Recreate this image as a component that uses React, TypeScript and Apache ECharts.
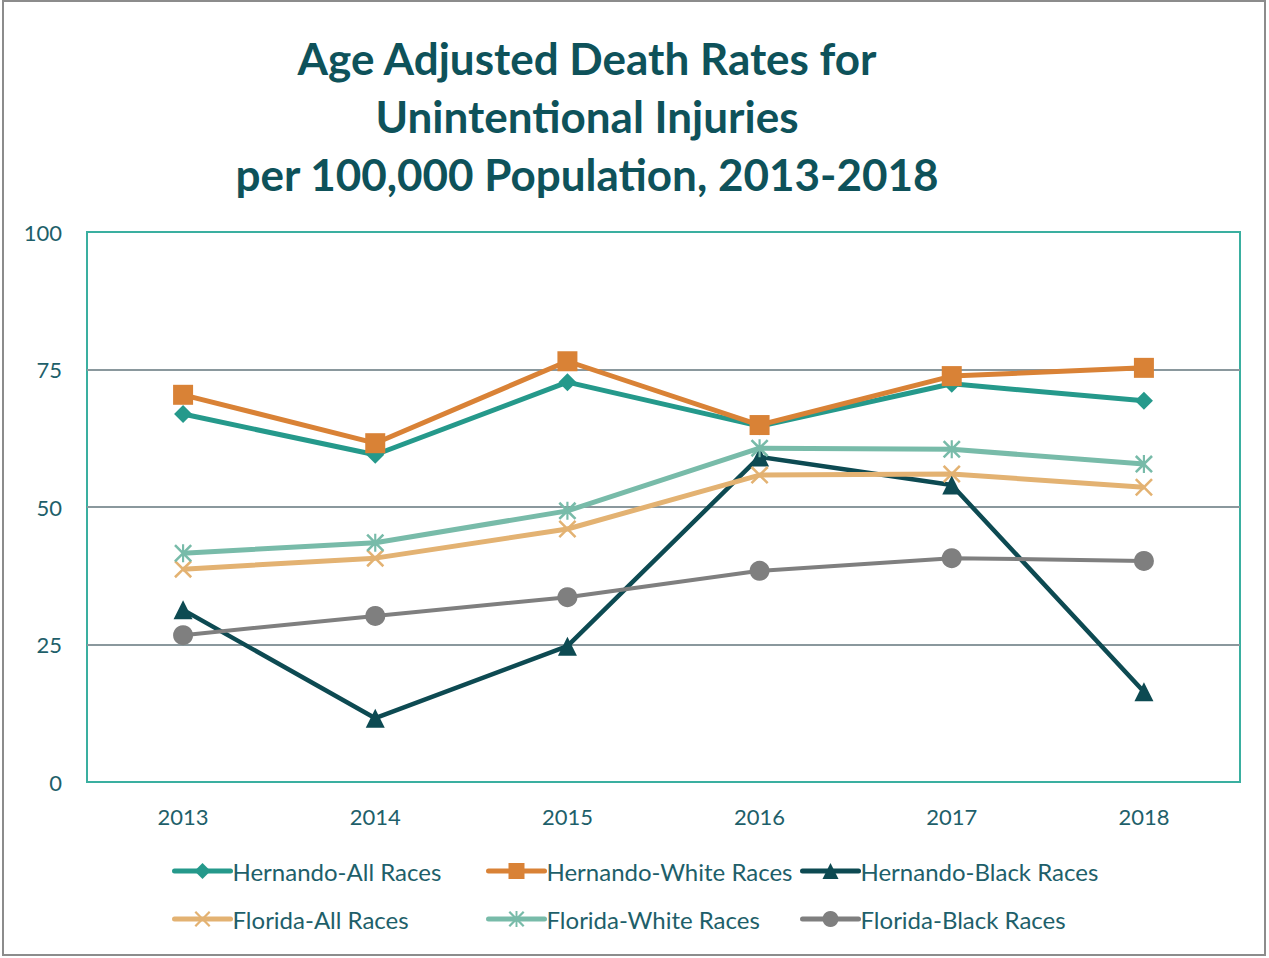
import React, { useEffect, useRef } from "react";
import * as echarts from "echarts";

const years = ["2013", "2014", "2015", "2016", "2017", "2018"];
const seriesNames = [
  "Hernando-All Races",
  "Hernando-White Races",
  "Hernando-Black Races",
  "Florida-All Races",
  "Florida-White Races",
  "Florida-Black Races",
];
const hernandoAll = [66.9, 59.5, 72.7, 64.7, 72.4, 69.3];
const hernandoWhite = [70.4, 61.6, 76.5, 64.9, 73.8, 75.3];
const hernandoBlack = [31.3, 11.6, 24.7, 59.1, 54.0, 16.4];
const floridaAll = [38.7, 40.7, 46.0, 55.8, 56.0, 53.6];
const floridaWhite = [41.6, 43.5, 49.3, 60.7, 60.5, 57.8];
const floridaBlack = [26.7, 30.2, 33.6, 38.4, 40.7, 40.2];
const yTicks = [0, 25, 50, 75, 100];

const titleLines = [
  "Age Adjusted Death Rates for",
  "Unintentional Injuries",
  "per 100,000 Population, 2013-2018",
];

const X_PATH =
  "path://M0,1 L1,0 L5,4 L9,0 L10,1 L6,5 L10,9 L9,10 L5,6 L1,10 L0,9 L4,5 Z";
const STAR_PATH =
  "path://M0,1 L1,0 L5,4 L9,0 L10,1 L6,5 L10,9 L9,10 L5,6 L1,10 L0,9 L4,5 Z M4.4,0 L5.6,0 L5.6,10 L4.4,10 Z";

const colors = ["#25998B", "#D98236", "#0D4A52", "#E3B272", "#78BBA9", "#7F7F7F"];
const symbols = ["diamond", "rect", "triangle", X_PATH, STAR_PATH, "circle"];
const symbolSizes = [18, 20, 19, 18, 18, 20];
const lineWidths = [5, 5, 4.5, 5, 5, 4];
const values = [hernandoAll, hernandoWhite, hernandoBlack, floridaAll, floridaWhite, floridaBlack];

const legendCols = [172, 486, 800];
const legendRows = [859, 907];

export default function App() {
  const ref = useRef<HTMLDivElement>(null);
  useEffect(() => {
    if (!ref.current) return;
    const chart = echarts.init(ref.current, undefined, { renderer: "svg" });
    const textColor = "#1E5F6A";
    const font = "Lato";
    chart.setOption({
      animation: false,
      backgroundColor: "#ffffff",
      textStyle: { fontFamily: font },
      title: {
        text: titleLines.join("\n"),
        left: 582,
        textAlign: "center",
        top: 24,
        textStyle: {
          fontFamily: font,
          fontWeight: "bold",
          fontSize: 44,
          lineHeight: 58,
          color: "#0E525A",
        },
      },
      legend: seriesNames.map((n, i) => ({
        data: [n],
        left: legendCols[i % 3],
        top: legendRows[Math.floor(i / 3)],
        itemWidth: 56,
        itemHeight: 20,
        padding: 0,
        lineStyle: { width: 5, cap: "round" },
        textStyle: { color: textColor, fontSize: 24, fontFamily: font, padding: [0, 0, 0, -3] },
        selectedMode: false,
      })),
      grid: {
        left: 87,
        right: 29,
        top: 232,
        bottom: 176,
        show: true,
        borderColor: "#3AAFA0",
        borderWidth: 2,
        backgroundColor: "transparent",
      },
      xAxis: {
        type: "category",
        data: years,
        boundaryGap: true,
        axisLine: { show: true, lineStyle: { color: "#3AAFA0", width: 2 } },
        axisTick: { show: false },
        axisLabel: { color: textColor, fontSize: 22, margin: 23, fontFamily: font },
        splitLine: { show: false },
      },
      yAxis: {
        type: "value",
        min: yTicks[0],
        max: yTicks[yTicks.length - 1],
        interval: 25,
        axisLine: { show: false },
        axisTick: { show: false },
        axisLabel: { color: textColor, fontSize: 22, margin: 25, fontFamily: font },
        splitLine: {
          show: true,
          lineStyle: {
            color: ["#3AAFA0", "#8A989D", "#8A989D", "#8A989D", "#3AAFA0"],
            width: 2,
          },
        },
      },
      graphic: [
        {
          type: "rect",
          shape: { x: 3, y: 1, width: 1262, height: 954 },
          style: { fill: "none", stroke: "#8C8C8C", lineWidth: 2 },
          silent: true,
        },
      ],
      series: seriesNames.map((n, i) => ({
        name: n,
        type: "line",
        data: values[i],
        symbol: symbols[i],
        symbolSize: symbolSizes[i],
        showAllSymbol: true,
        color: colors[i],
        lineStyle: { color: colors[i], width: lineWidths[i] },
        itemStyle: { color: colors[i] },
        emphasis: { disabled: true },
      })),
    });
    return () => chart.dispose();
  }, []);
  return (
    <div
      ref={ref}
      style={{ position: "fixed", left: 0, top: 0, width: 1269, height: 958 }}
    />
  );
}
